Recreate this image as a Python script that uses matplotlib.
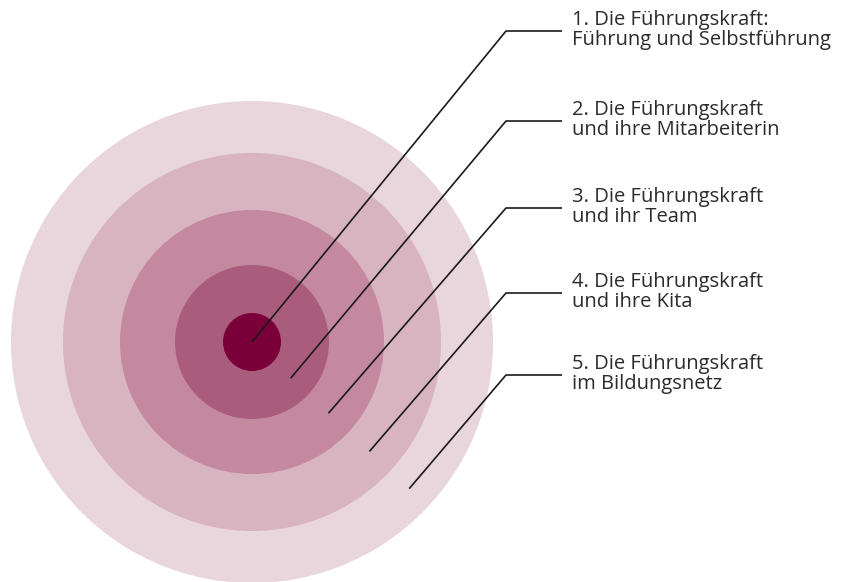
import numpy as np
import matplotlib.pyplot as plt
from matplotlib.patches import Circle

# Ringe von aussen nach innen (Radius in px, Farbe)
radii = [241, 189, 132, 77, 29]
colors = ['#E9D5DC', '#D8B3C0', '#C4899F', '#A95C7B', '#7B003A']

labels = ['1. Die Führungskraft:\nFührung und Selbstführung',
          '2. Die Führungskraft\nund ihre Mitarbeiterin',
          '3. Die Führungskraft\nund ihr Team',
          '4. Die Führungskraft\nund ihre Kita',
          '5. Die Führungskraft\nim Bildungsnetz']
label_y = [31, 121, 208, 293, 375]

cx, cy = 252, 342
angle = np.deg2rad(43)

fig = plt.figure(figsize=(8.56, 5.82), dpi=100)
ax = fig.add_axes([0, 0, 1, 1])
ax.set_xlim(0, 856)
ax.set_ylim(582, 0)
ax.set_aspect('equal')
ax.axis('off')

for r, c in zip(radii, colors):
    ax.add_patch(Circle((cx, cy), r, facecolor=c, edgecolor='none'))

# Ringmitten fuer die Hinweislinien (innen -> aussen)
inner = radii[::-1]
mids = [0] + [(inner[i] + inner[i + 1]) / 2 for i in range(len(inner) - 1)]

for m, ly, txt in zip(mids, label_y, labels):
    x0 = cx + m * np.cos(angle)
    y0 = cy + m * np.sin(angle)
    ax.plot([x0, 506, 562], [y0, ly, ly], color='#1a1a1a', lw=1.2,
            solid_capstyle='butt')
    ax.text(572, ly - 1, txt, ha='left', va='center', fontsize=14.5,
            family='Open Sans', color='#2b2b2b', linespacing=1.05)

fig.savefig('out.png', dpi=100)
